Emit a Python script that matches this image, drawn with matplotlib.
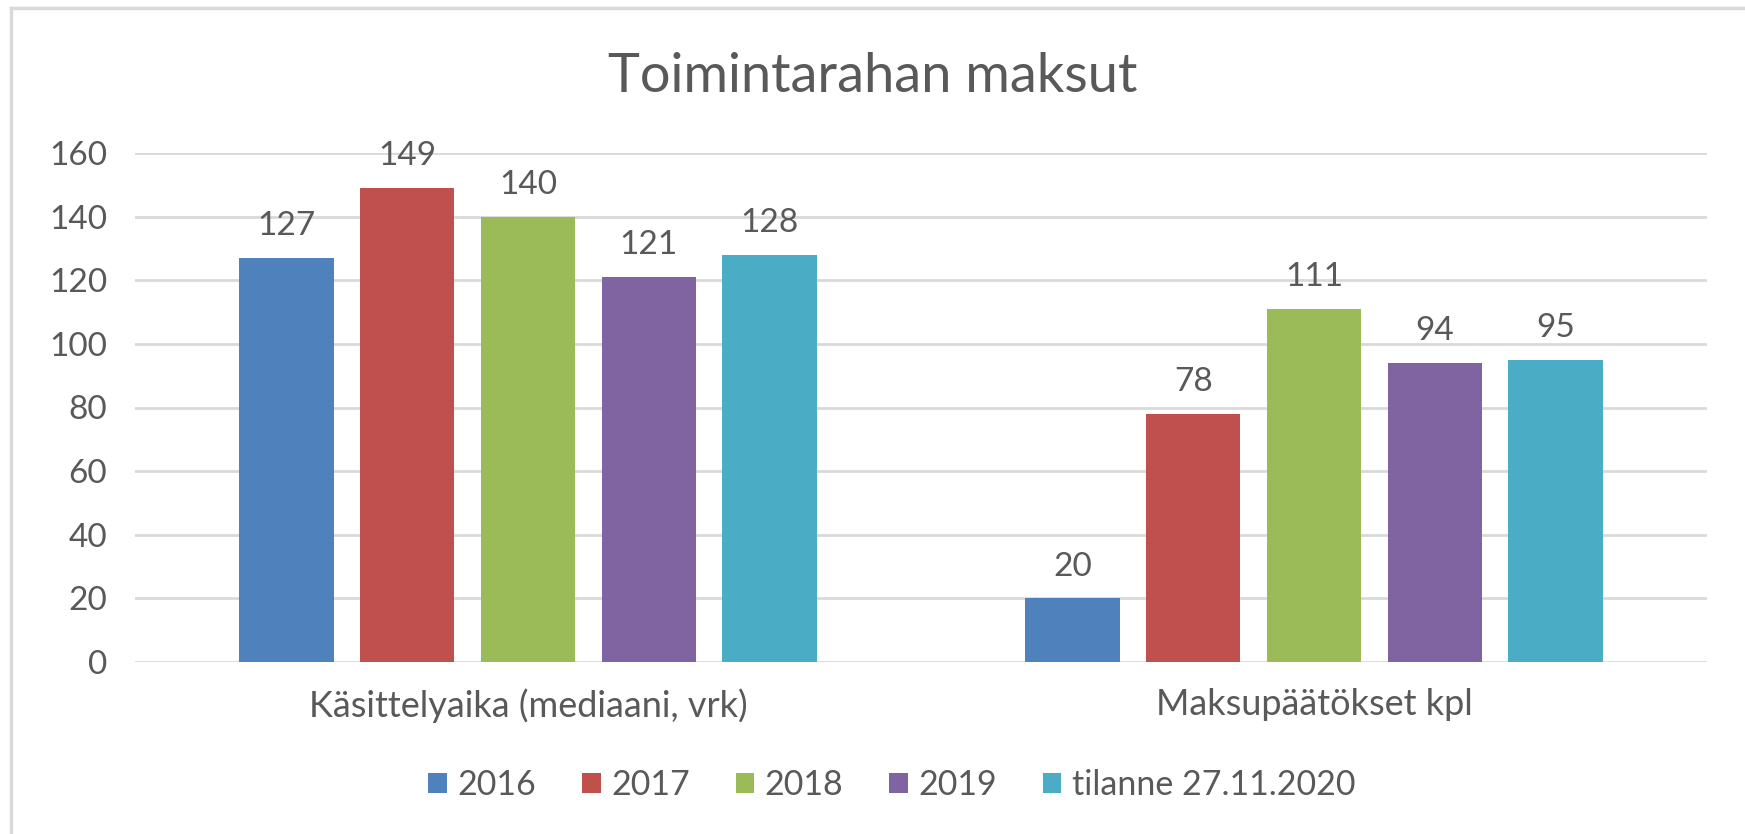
import matplotlib.pyplot as plt
import numpy as np

categories = ["Käsittelyaika (mediaani, vrk)", "Maksupäätökset kpl"]
series_names = ["2016", "2017", "2018", "2019", "tilanne 27.11.2020"]
values_2016 = [127, 20]
values_2017 = [149, 78]
values_2018 = [140, 111]
values_2019 = [121, 94]
values_2020 = [128, 95]
yticks = [0, 20, 40, 60, 80, 100, 120, 140, 160]

colors = ['#4F81BD', '#C0504D', '#9BBB59', '#8064A2', '#4BACC6']
text_color = '#595959'
grid_color = '#D9D9D9'

plt.rcParams['font.family'] = ['Lato', 'DejaVu Sans']

W, H = 1745, 834
fig = plt.figure(figsize=(W / 100, H / 100), dpi=100)
ax = fig.add_axes([135 / W, 1 - 662 / H, (1707 - 135) / W, (662 - 153) / H])

# chart border (only top and left edges are visible in the reference)
fig.add_artist(plt.Line2D([11 / W, 11 / W], [0, 1 - 8 / H], color=grid_color, lw=2.5))
fig.add_artist(plt.Line2D([11 / W, 1], [1 - 8 / H, 1 - 8 / H], color=grid_color, lw=2.5))

all_values = [values_2016, values_2017, values_2018, values_2019, values_2020]
x = np.arange(len(categories))
bar_w = 0.12
step = 0.1536
for i, (name, vals) in enumerate(zip(series_names, all_values)):
    pos = x + (i - 2) * step
    bars = ax.bar(pos, vals, bar_w, color=colors[i], label=name, zorder=3)
    for b, v in zip(bars, vals):
        ax.annotate(str(v), (b.get_x() + b.get_width() / 2, v), xytext=(0, 12),
                    textcoords='offset points', ha='center', va='bottom',
                    fontsize=24, color=text_color, annotation_clip=False)

ax.set_xlim(-0.5, 1.5)
ax.set_ylim(0, 160)
ax.set_yticks(yticks)
ax.set_yticklabels([str(t) for t in yticks])
ax.set_xticks(x)
ax.set_xticklabels(categories)
ax.tick_params(axis='both', length=0, labelsize=24, colors=text_color)
ax.tick_params(axis='y', pad=20)
ax.tick_params(axis='x', pad=19, labelsize=26)
ax.grid(axis='y', color=grid_color, lw=2, zorder=0)
for s in ax.spines.values():
    s.set_visible(False)

fig.text(0.5, 1 - 76 / H, "Toimintarahan maksut", ha='center', va='center',
         fontsize=39, color=text_color)

fig.legend(loc='center', bbox_to_anchor=(0.511, 1 - 785 / H), ncol=5, frameon=False,
           fontsize=24.5, handlelength=0.55, handleheight=0.55, handletextpad=0.3,
           columnspacing=1.35, labelcolor=text_color)

fig.savefig('out.png', dpi=100)
